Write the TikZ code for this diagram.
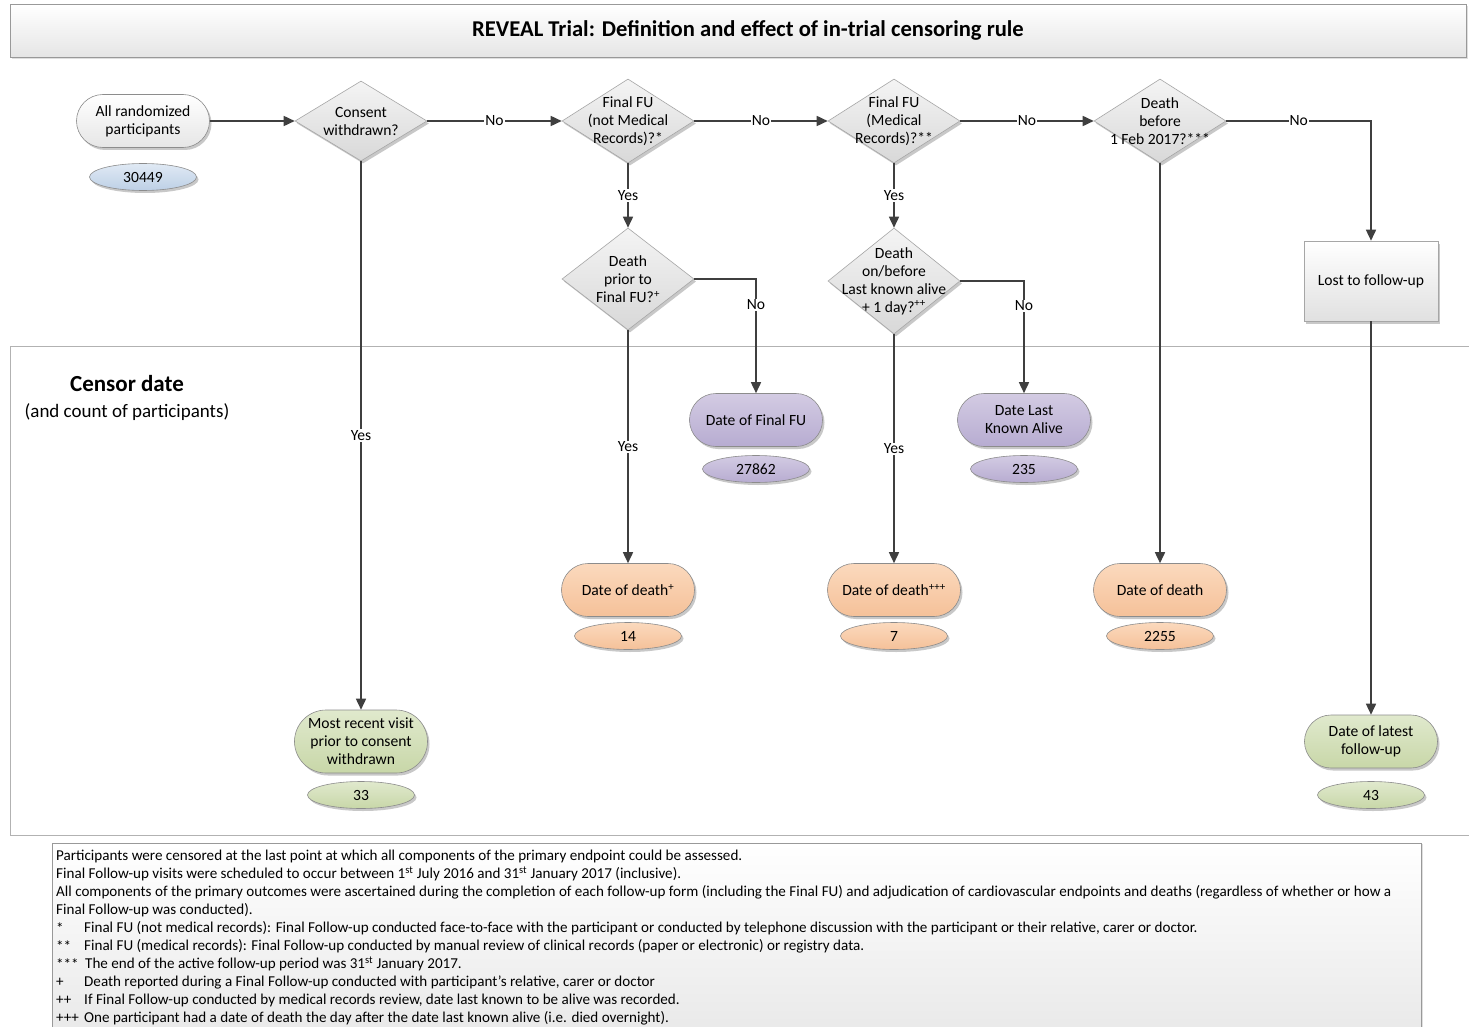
\documentclass[tikz,border=0pt]{standalone}
\usepackage{fontspec}
\setmainfont{Carlito}
\usetikzlibrary{shapes.geometric,shapes.misc,arrows.meta,shadows}
\definecolor{linec}{HTML}{3F3F3F}
\definecolor{bordc}{HTML}{8C8C8C}
\definecolor{blueT}{HTML}{E0E9F4}
\definecolor{blueB}{HTML}{BDD0E6}
\definecolor{purT}{HTML}{D3CBE3}
\definecolor{purB}{HTML}{B7ACD1}
\definecolor{orT}{HTML}{FBD9BD}
\definecolor{orB}{HTML}{F5C199}
\definecolor{grT}{HTML}{E0E9CD}
\definecolor{grB}{HTML}{C8D7A8}
\definecolor{diaT}{HTML}{F4F4F4}
\definecolor{diaB}{HTML}{D8D8D8}
\newcommand{\fsnode}{\fontsize{15.6}{18}\selectfont}
\newcommand{\fsfoot}{\fontsize{15.1}{16}\selectfont}
\begin{document}
\begin{tikzpicture}[x=1pt,y=-1pt,
  shad/.style={drop shadow={shadow xshift=2pt,shadow yshift=-2.5pt,opacity=0.3,fill=black!70}},
  term/.style={rounded rectangle, draw=bordc, line width=0.6pt, minimum width=133pt, minimum height=53pt, inner sep=0pt, align=center, font=\fsnode, shad},
  whiteterm/.style={term, top color=white, bottom color=black!10},
  purterm/.style={term, top color=purT, bottom color=purB},
  orterm/.style={term, top color=orT, bottom color=orB},
  grterm/.style={term, top color=grT, bottom color=grB},
  cnt/.style={ellipse, draw=bordc, line width=0.6pt, minimum width=107pt, minimum height=27pt, inner sep=0pt, font=\fsnode, shad},
  bluecnt/.style={cnt, top color=blueT, bottom color=blueB},
  purcnt/.style={cnt, top color=purT, bottom color=purB},
  orcnt/.style={cnt, top color=orT, bottom color=orB},
  grcnt/.style={cnt, top color=grT, bottom color=grB},
  dia/.style={diamond, draw=black!35, line width=0.6pt, minimum width=132pt, inner sep=0pt, top color=diaT, bottom color=diaB, shad},
  dtext/.style={align=center, font=\fsnode, inner sep=0pt},
  conn/.style={draw=linec, line width=1.6pt, -{Triangle[length=11pt,width=10pt]}},
  lbl/.style={fill=white, inner sep=1pt, font=\fsnode, text=black},
  foot/.style={anchor=west, inner sep=0pt, font=\fsfoot},
]
\useasboundingbox (0,0) rectangle (1469,1027);
\fill[white] (0,0) rectangle (1469,1027);

% title bar
\node[draw=black!40, line width=0.6pt, top color=white, bottom color=black!10, minimum width=1456pt, minimum height=53pt, inner sep=0pt, drop shadow={shadow xshift=1.5pt,shadow yshift=-2pt,opacity=0.25}] (titlebar) at (738,30.5) {};
\node[font=\fontsize{22.6}{26}\selectfont\bfseries] (title) at (748,30) {REVEAL Trial: Definition and effect of in-trial censoring rule};

% censor band
\draw[draw=black!30, line width=0.8pt] (10,346) rectangle (1469,835);
\node[font=\fontsize{23}{26}\selectfont\bfseries] (cdtitle) at (127,384) {Censor date};
\node[font=\fontsize{19}{22}\selectfont] (cdsub) at (127,412) {(and count of participants)};

% footnote box
\draw[draw=black!40, line width=0.6pt, top color=white, bottom color=black!9, drop shadow={shadow xshift=2pt,shadow yshift=-1pt,opacity=0.25}] (52,843) rectangle (1421,1040);
\node[foot] (f1) at (56,856) {Participants were censored at the last point at which all components of the primary endpoint could be assessed.};
\node[foot] (f2) at (56,874) {Final Follow-up visits were scheduled to occur between 1\textsuperscript{st} July 2016 and 31\textsuperscript{st} January 2017 (inclusive).};
\node[foot] (f3) at (56,892) {All components of the primary outcomes were ascertained during the completion of each follow-up form (including the Final FU) and adjudication of cardiovascular endpoints and deaths (regardless of whether or how a};
\node[foot] (f4) at (56,910) {Final Follow-up was conducted).};
\node[foot] (f5m) at (56,928) {*};
\node[foot] (f5) at (84,928) {Final FU (not medical records): Final Follow-up conducted face-to-face with the participant or conducted by telephone discussion with the participant or their relative, carer or doctor.};
\node[foot] (f6m) at (56,946) {**};
\node[foot] (f6) at (84,946) {Final FU (medical records): Final Follow-up conducted by manual review of clinical records (paper or electronic) or registry data.};
\node[foot] (f7m) at (56,964) {***};
\node[foot] (f7) at (85,964) {The end of the active follow-up period was 31\textsuperscript{st} January 2017.};
\node[foot] (f8m) at (56,982) {+};
\node[foot] (f8) at (84,982) {Death reported during a Final Follow-up conducted with participant’s relative, carer or doctor};
\node[foot] (f9m) at (56,1000) {++};
\node[foot] (f9) at (84,1000) {If Final Follow-up conducted by medical records review, date last known to be alive was recorded.};
\node[foot] (f10m) at (56,1018) {+++};
\node[foot] (f10) at (84,1018) {One participant had a date of death the day after the date last known alive (i.e. died overnight).};

% start
\node[whiteterm] (start) at (143,121) {All randomized\\participants};
\node[bluecnt] (n0) at (143,177) {30449};

% decision diamonds
\node[dia, minimum height=80pt] (dcons) at (361,121) {};
\node[dtext] (dconsT) at (dcons.center) {Consent\\withdrawn?};
\node[dia, minimum height=84pt] (dffu1) at (628,121) {};
\node[dtext] (dffu1T) at (dffu1.center) {Final FU\\(not Medical\\Records)?*};
\node[dia, minimum height=84pt] (dffu2) at (894,121) {};
\node[dtext] (dffu2T) at (dffu2.center) {Final FU\\(Medical\\Records)?**};
\node[dia, minimum height=84pt] (ddb) at (1160,121) {};
\node[dtext] (ddbT) at (ddb.center) {Death\\before\\1 Feb 2017?***};
\node[dia, minimum height=102pt] (ddp) at (628,279) {};
\node[dtext] (ddpT) at (ddp.center) {Death\\prior to\\Final FU?\textsuperscript{+}};
\node[dia, minimum height=106pt] (ddo) at (894,281) {};
\node[dtext] (ddoT) at (ddo.center) {Death\\on/before\\Last known alive\\+ 1 day?\textsuperscript{++}};

% lost
\node[draw=black!35, line width=0.6pt, top color=white, bottom color=black!12, minimum width=134pt, minimum height=80pt, font=\fsnode, shad] (lost) at (1371,281) {Lost to follow-up};

% outcomes
\node[purterm] (dffu) at (756,420) {Date of Final FU};
\node[purcnt] (n1) at (756,469) {27862};
\node[purterm] (dlka) at (1024,420) {Date Last\\Known Alive};
\node[purcnt] (n2) at (1024,469) {235};
\node[orterm] (dod1) at (628,590) {Date of death\textsuperscript{+}};
\node[orcnt] (n3) at (628,636) {14};
\node[orterm] (dod2) at (894,590) {Date of death\textsuperscript{+++}};
\node[orcnt] (n4) at (894,636) {7};
\node[orterm] (dod3) at (1160,590) {Date of death};
\node[orcnt] (n5) at (1160,636) {2255};
\node[grterm, minimum height=63pt] (mrv) at (361,741.5) {Most recent visit\\prior to consent\\withdrawn};
\node[grcnt] (n6) at (361,795) {33};
\node[grterm] (dlf) at (1371,741.5) {Date of latest\\follow-up};
\node[grcnt] (n7) at (1371,795) {43};

% connectors
\draw[conn] (start.east) -- (dcons.west);
\draw[conn] (dcons.east) -- node[lbl] {No} (dffu1.west);
\draw[conn] (dffu1.east) -- node[lbl] {No} (dffu2.west);
\draw[conn] (dffu2.east) -- node[lbl] {No} (ddb.west);
\draw[conn] (ddb.east) -| node[lbl, pos=0.25] {No} (lost.north);
\draw[conn] (dcons.south) -- node[lbl] {Yes} (mrv.north);
\draw[conn] (dffu1.south) -- node[lbl] {Yes} (ddp.north);
\draw[conn] (dffu2.south) -- node[lbl] {Yes} (ddo.north);
\draw[conn] (ddp.east) -| node[lbl, pos=0.614] {No} (dffu.north);
\draw[conn] (ddo.east) -| node[lbl, pos=0.61] {No} (dlka.north);
\draw[conn] (ddp.south) -- node[lbl] {Yes} (dod1.north);
\draw[conn] (ddo.south) -- node[lbl] {Yes} (dod2.north);
\draw[conn] (ddb.south) -- (dod3.north);
\draw[conn] (lost.south) -- (dlf.north);
\end{tikzpicture}
\end{document}
